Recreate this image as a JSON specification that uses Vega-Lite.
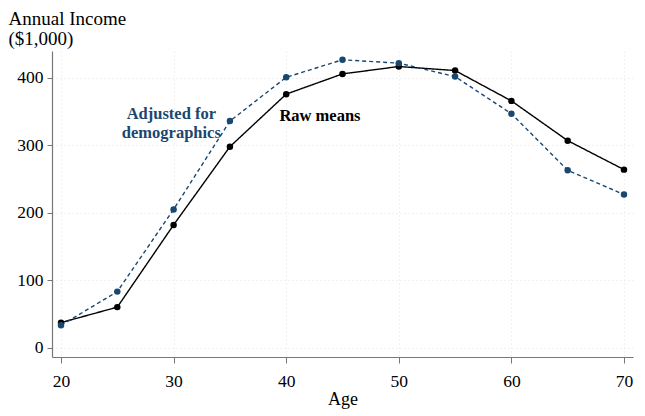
{
  "$schema": "https://vega.github.io/schema/vega-lite/v6.json",
  "width": 581,
  "height": 306,
  "autosize": {"type": "none"},
  "padding": {"left": 52, "top": 51, "right": 12, "bottom": 59},
  "background": "white",
  "datasets": {
    "income": [
      {"age": 20, "income": 37, "series": "Raw means"},
      {"age": 25, "income": 60, "series": "Raw means"},
      {"age": 30, "income": 182, "series": "Raw means"},
      {"age": 35, "income": 298, "series": "Raw means"},
      {"age": 40, "income": 376, "series": "Raw means"},
      {"age": 45, "income": 406, "series": "Raw means"},
      {"age": 50, "income": 417, "series": "Raw means"},
      {"age": 55, "income": 411, "series": "Raw means"},
      {"age": 60, "income": 366, "series": "Raw means"},
      {"age": 65, "income": 307, "series": "Raw means"},
      {"age": 70, "income": 264, "series": "Raw means"},
      {"age": 20, "income": 33, "series": "Adjusted"},
      {"age": 25, "income": 83, "series": "Adjusted"},
      {"age": 30, "income": 205, "series": "Adjusted"},
      {"age": 35, "income": 336, "series": "Adjusted"},
      {"age": 40, "income": 401, "series": "Adjusted"},
      {"age": 45, "income": 427, "series": "Adjusted"},
      {"age": 50, "income": 422, "series": "Adjusted"},
      {"age": 55, "income": 402, "series": "Adjusted"},
      {"age": 60, "income": 347, "series": "Adjusted"},
      {"age": 65, "income": 263, "series": "Adjusted"},
      {"age": 70, "income": 227, "series": "Adjusted"}
    ],
    "labels": [
      {"age": 29.8, "income": 347, "label": ["Adjusted for", "demographics"], "series": "Adjusted"},
      {"age": 43, "income": 343, "label": ["Raw means"], "series": "Raw means"}
    ]
  },
  "encoding": {
    "x": {
      "field": "age", "type": "quantitative",
      "scale": {"domain": [19.2, 70.8], "nice": false, "zero": false},
      "axis": {
        "title": "Age", "values": [20, 30, 40, 50, 60, 70],
        "titlePadding": 1, "labelPadding": 9, "tickSize": 6
      }
    },
    "y": {
      "field": "income", "type": "quantitative",
      "scale": {"domain": [-14, 440], "nice": false, "zero": false},
      "axis": {
        "title": ["Annual Income", "($1,000)"], "values": [0, 100, 200, 300, 400],
        "titleAngle": 0, "titleAlign": "left", "titleBaseline": "bottom",
        "titleX": -44, "titleY": -23, "titleLineHeight": 20, "titleFontSize": 19,
        "labelPadding": 4, "tickSize": 5
      }
    },
    "color": {
      "field": "series", "type": "nominal", "legend": null,
      "scale": {"domain": ["Raw means", "Adjusted"], "range": ["#000000", "#1a476f"]}
    }
  },
  "layer": [
    {
      "data": {"name": "income"},
      "mark": {"type": "line", "strokeWidth": 1.4},
      "encoding": {
        "strokeDash": {
          "field": "series", "type": "nominal", "legend": null,
          "scale": {"domain": ["Raw means", "Adjusted"], "range": [[1, 0], [4, 3]]}
        }
      }
    },
    {
      "data": {"name": "income"},
      "mark": {"type": "circle", "size": 42, "opacity": 1}
    },
    {
      "data": {"name": "labels"},
      "mark": {"type": "text", "font": "Liberation Serif", "fontSize": 16.5, "fontWeight": "bold", "lineHeight": 19, "align": "center", "baseline": "middle"},
      "encoding": {"text": {"field": "label"}}
    }
  ],
  "config": {
    "view": {"stroke": null},
    "font": "Liberation Serif",
    "axis": {
      "labelFont": "Liberation Serif", "labelFontSize": 17.5, "labelColor": "#000000",
      "titleFont": "Liberation Serif", "titleFontSize": 18, "titleFontWeight": "normal", "titleColor": "#000000",
      "domainColor": "#777777", "domainWidth": 1.2, "tickColor": "#777777", "tickWidth": 1,
      "grid": true, "gridColor": "#e4e4e4", "gridDash": [1, 3], "gridWidth": 1
    }
  }
}
